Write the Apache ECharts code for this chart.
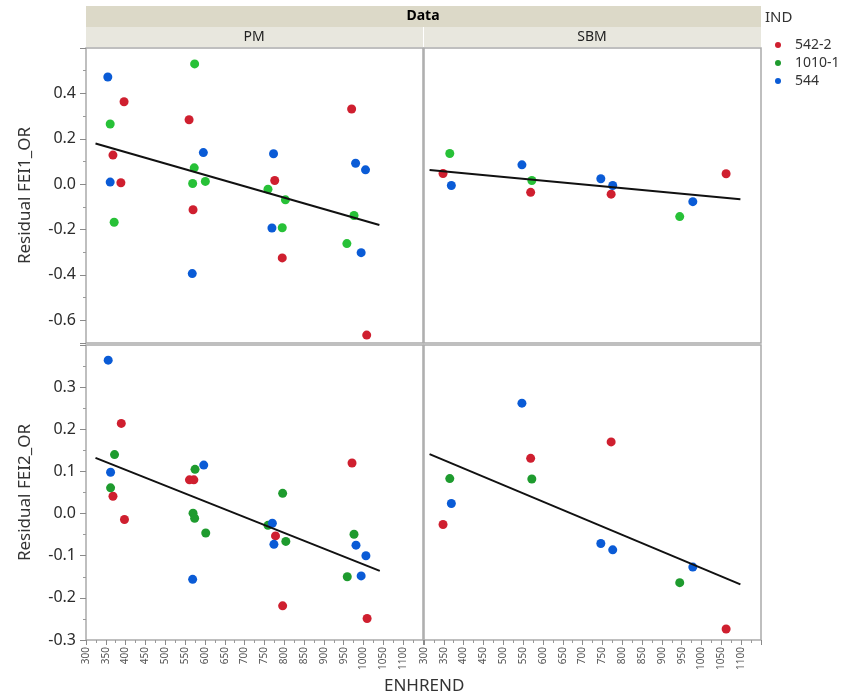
<!DOCTYPE html>
<html>
<head>
<meta charset="utf-8">
<script src="https://cdn.jsdelivr.net/npm/echarts@6/dist/echarts.min.js"></script>
<style>html,body{margin:0;padding:0;background:#fff}#c{width:854px;height:695px}</style>
</head>
<body>
<div id="c"></div>
<script>
// ---- data (ENHREND, residual) ----
const groups = ['542-2', '1010-1', '544'];
const panels = ['PM', 'SBM'];

const pmFei1Red   = [[396,0.363],[368,0.128],[388,0.006],[560,0.284],[570,-0.113],[776,0.016],[795,-0.325],[970,0.331],[1008,-0.665]];
const pmFei1Green = [[574,0.530],[361,0.265],[371,-0.168],[573,0.072],[569,0.003],[601,0.012],[759,-0.022],[803,-0.069],[795,-0.192],[976,-0.138],[958,-0.262]];
const pmFei1Blue  = [[355,0.472],[361,0.009],[596,0.139],[568,-0.394],[773,0.134],[769,-0.193],[980,0.092],[1005,0.063],[994,-0.302]];

const sbmFei1Red   = [[348,0.047],[569,-0.036],[772,-0.044],[1062,0.046]];
const sbmFei1Green = [[365,0.135],[572,0.016],[945,-0.143]];
const sbmFei1Blue  = [[369,-0.006],[547,0.085],[746,0.024],[776,-0.006],[978,-0.077]];

const pmFei2Red   = [[389,0.214],[368,0.041],[397,-0.014],[561,0.080],[572,0.080],[778,-0.053],[796,-0.219],[971,0.120],[1009,-0.249]];
const pmFei2Green = [[372,0.140],[362,0.061],[575,0.105],[570,0.001],[574,-0.011],[602,-0.046],[759,-0.028],[796,0.048],[804,-0.066],[976,-0.049],[959,-0.150]];
const pmFei2Blue  = [[356,0.364],[362,0.098],[597,0.115],[569,-0.156],[770,-0.023],[774,-0.073],[981,-0.075],[1006,-0.100],[994,-0.148]];

const sbmFei2Red   = [[348,-0.026],[569,0.131],[772,0.170],[1062,-0.274]];
const sbmFei2Green = [[365,0.083],[572,0.082],[945,-0.164]];
const sbmFei2Blue  = [[369,0.024],[547,0.262],[746,-0.071],[776,-0.086],[978,-0.127]];

// fitted lines (end points)
const pmFei1Fit  = [[324,0.179],[1040,-0.180]];
const sbmFei1Fit = [[314,0.062],[1098,-0.067]];
const pmFei2Fit  = [[324,0.132],[1041,-0.136]];
const sbmFei2Fit = [[314,0.141],[1098,-0.168]];

const xTicks = {min:300, max:1150, interval:50};
const yTitles = ['Residual FEI1_OR', 'Residual FEI2_OR'];

// ---- styling ----
const FONT = 'Noto Sans';
const RED = '#cf1f2f', BLUE = '#0a5bd6', GREEN_TOP = '#27c137', GREEN_BOT = '#1e9b2e';

const grids = [
  {left:86, top:48, width:337, height:295},
  {left:424, top:48, width:337, height:295},
  {left:86, top:345, width:337, height:295},
  {left:424, top:345, width:337, height:295}
].map(g => Object.assign(g, {show:true, borderColor:'#ababab', borderWidth:1.5, backgroundColor:'#fff', containLabel:false}));

function xAxisFor(i, bottom) {
  return {
    type:'value', gridIndex:i, position:'bottom', min:xTicks.min, max:xTicks.max, interval:xTicks.interval,
    axisLine:{show:false, onZero:false}, splitLine:{show:false},
    axisTick:{show:bottom, length:5, lineStyle:{color:'#8a8a8a'}},
    minorTick:{show:bottom, splitNumber:2, length:3, lineStyle:{color:'#9a9a9a'}},
    axisLabel:{show:bottom, rotate:90, fontSize:10, fontFamily:FONT, color:'#555', margin:7, showMaxLabel:false,
      formatter: v => String(v)}
  };
}
function yAxisFor(i, left, top) {
  const base = {
    type:'value', gridIndex:i, position:'left',
    axisLine:{show:false, onZero:false}, splitLine:{show:false},
    axisTick:{show:left, length:6, lineStyle:{color:'#8a8a8a'}},
    minorTick:{show:left, splitNumber:2, length:3, lineStyle:{color:'#9a9a9a'}},
    axisLabel:{show:left, fontSize:16, fontFamily:FONT, color:'#2b2b2b', margin:10,
      showMaxLabel:false, formatter: v => v.toFixed(1)},
    name: left ? yTitles[top ? 0 : 1] : '', nameLocation:'middle', nameGap:52,
    nameTextStyle:{fontSize:17, fontFamily:FONT, color:'#333'}
  };
  if (top) { base.min = -0.7; base.max = 0.6; base.splitNumber = 6; base.axisLabel.showMinLabel = false; }
  else { base.min = -0.3; base.max = 0.4; base.interval = 0.1; }
  return base;
}

function scatter(name, data, color, i) {
  return {type:'scatter', name, data, xAxisIndex:i, yAxisIndex:i, symbolSize:9,
    itemStyle:{color, opacity:1}, animation:false, z:3};
}
function fit(data, i) {
  return {type:'line', data, xAxisIndex:i, yAxisIndex:i, symbol:'none', silent:true,
    lineStyle:{color:'#111', width:2}, animation:false, z:4};
}

const series = [
  scatter('542-2', pmFei1Red, RED, 0), scatter('1010-1', pmFei1Green, GREEN_TOP, 0), scatter('544', pmFei1Blue, BLUE, 0), fit(pmFei1Fit, 0),
  scatter('542-2', sbmFei1Red, RED, 1), scatter('1010-1', sbmFei1Green, GREEN_TOP, 1), scatter('544', sbmFei1Blue, BLUE, 1), fit(sbmFei1Fit, 1),
  scatter('542-2', pmFei2Red, RED, 2), scatter('1010-1', pmFei2Green, GREEN_BOT, 2), scatter('544', pmFei2Blue, BLUE, 2), fit(pmFei2Fit, 2),
  scatter('542-2', sbmFei2Red, RED, 3), scatter('1010-1', sbmFei2Green, GREEN_BOT, 3), scatter('544', sbmFei2Blue, BLUE, 3), fit(sbmFei2Fit, 3)
];

const chart = echarts.init(document.getElementById('c'), null, {renderer:'canvas'});
chart.setOption({
  animation:false,
  backgroundColor:'#fff',
  grid: grids,
  xAxis: [xAxisFor(0,false), xAxisFor(1,false), xAxisFor(2,true), xAxisFor(3,true)],
  yAxis: [yAxisFor(0,true,true), yAxisFor(1,false,true), yAxisFor(2,true,false), yAxisFor(3,false,false)],
  title: {text:'ENHREND', left:379, top:673, textStyle:{fontSize:17, fontWeight:'normal', fontFamily:FONT, color:'#333'}},
  legend: {
    orient:'vertical', left:770, top:31, itemGap:0, icon:'circle', itemWidth:22, itemHeight:6,
    data: [
      {name:groups[0], itemStyle:{color:RED}},
      {name:groups[1], itemStyle:{color:GREEN_BOT}},
      {name:groups[2], itemStyle:{color:BLUE}}
    ],
    textStyle:{fontSize:14, fontFamily:FONT, color:'#333', lineHeight:18, padding:[0,0,0,1]}
  },
  graphic: [
    {type:'rect', shape:{x:86, y:6, width:675, height:21}, style:{fill:'#dcd9c8'}, silent:true},
    {type:'rect', shape:{x:86, y:27, width:337, height:20}, style:{fill:'#e8e7de'}, silent:true},
    {type:'rect', shape:{x:424, y:27, width:337, height:20}, style:{fill:'#e8e7de'}, silent:true},
    {type:'text', x:423, y:16, style:{text:'Data', fontSize:14, fontWeight:'bold', fontFamily:FONT, fill:'#000', align:'center', verticalAlign:'middle'}},
    {type:'text', x:254, y:37, style:{text:panels[0], fontSize:14, fontFamily:FONT, fill:'#222', align:'center', verticalAlign:'middle'}},
    {type:'text', x:592, y:37, style:{text:panels[1], fontSize:14, fontFamily:FONT, fill:'#222', align:'center', verticalAlign:'middle'}},
    {type:'text', x:765, y:18, style:{text:'IND', fontSize:15, fontFamily:FONT, fill:'#333', align:'left', verticalAlign:'middle'}}
  ],
  series
});
</script>
</body>
</html>
